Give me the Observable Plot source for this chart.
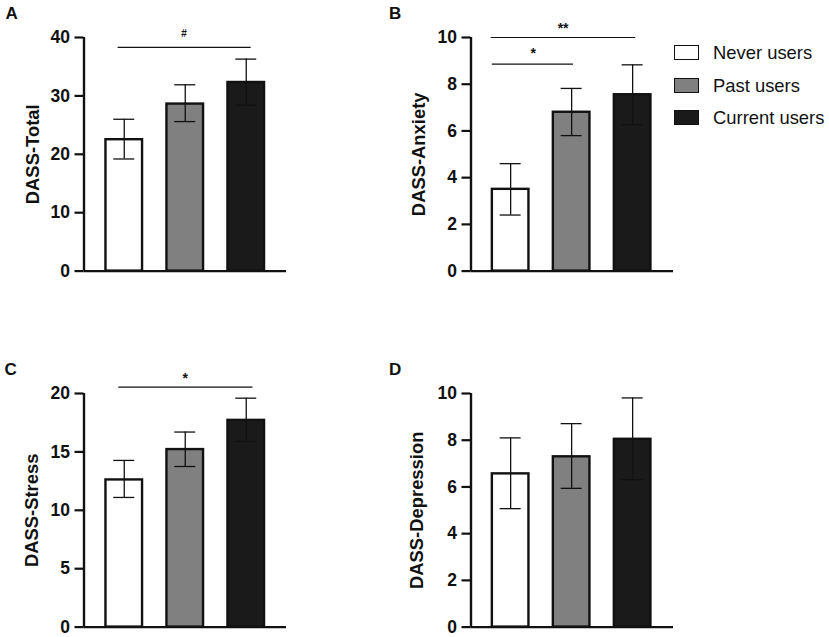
<!DOCTYPE html>
<html>
<head>
<meta charset="utf-8">
<script src="https://cdn.jsdelivr.net/npm/d3@7"></script>
<script src="https://cdn.jsdelivr.net/npm/@observablehq/plot@0.6"></script>
<style>
  body { margin: 0; background: white; }
  #page { position: relative; width: 829px; height: 637px; overflow: hidden; font-family: "Liberation Sans", Arial, sans-serif; }
  .panel { position: absolute; }
  .panel svg { display: block; }
  #legend { position: absolute; left: 674px; top: 0; }
  .key { position: absolute; left: 0; white-space: nowrap; }
  .swatch { position: absolute; left: 0; top: 0; width: 23px; height: 13px; border: 1.6px solid #111; }
  .key span { position: absolute; left: 39px; top: -3px; font-size: 18.4px; line-height: 21px; color: #111; }
</style>
</head>
<body>
<div id="page"></div>
<script>
const categories = ["Never users", "Past users", "Current users"];
const colors = ["#ffffff", "#808080", "#1a1a1a"];

// means, upper and lower error bars
const totalMean = [22.5, 28.6, 32.3];
const totalHi = [26.0, 31.9, 36.3];
const totalLo = [19.2, 25.6, 28.4];

const anxietyMean = [3.5, 6.8, 7.55];
const anxietyHi = [4.6, 7.82, 8.83];
const anxietyLo = [2.4, 5.8, 6.27];

const stressMean = [12.6, 15.2, 17.7];
const stressHi = [14.27, 16.7, 19.6];
const stressLo = [11.1, 13.75, 15.9];

const depressionMean = [6.56, 7.29, 8.04];
const depressionHi = [8.1, 8.71, 9.81];
const depressionLo = [5.07, 5.94, 6.31];

// significance lines: from, to (in bar positions), height, mark
const totalSig = [{x1: -0.1, x2: 2.08, y: 38.3, tx: 0.98, ty: 40.55, mark: "#", size: 10}];
const anxietySig = [
  {x1: -0.32, x2: 2.05, y: 10, tx: 0.86, ty: 10.4, mark: "**", size: 14},
  {x1: -0.3, x2: 1.03, y: 8.86, tx: 0.37, ty: 9.3, mark: "*", size: 14}
];
const stressSig = [{x1: -0.09, x2: 2.11, y: 20.55, tx: 1, ty: 21.27, mark: "*", size: 14}];
const depressionSig = [];

const barHalf = 0.3;
const capHalf = 0.172;

function panel(o) {
  const rows = categories.map((c, i) => ({c, i, mean: o.mean[i], hi: o.hi[i], lo: o.lo[i]}));
  const chart = Plot.plot({
    width: 286,
    height: 281,
    marginLeft: 83.5,
    marginRight: 0,
    marginTop: 37,
    marginBottom: 10.4,
    style: {fontFamily: "'Liberation Sans', Arial, sans-serif", background: "transparent", color: "#111"},
    x: {domain: o.xDomain, axis: null},
    y: {domain: [0, o.max]},
    color: {domain: categories, range: colors},
    marks: [
      Plot.rectY(rows, {
        x1: d => d.i - barHalf,
        x2: d => d.i + barHalf,
        y1: 0,
        y2: "mean",
        fill: "c",
        stroke: "#111",
        strokeWidth: 2.4
      }),
      Plot.ruleX(rows, {x: "i", y1: "lo", y2: "hi", stroke: "#111", strokeWidth: 1.3}),
      Plot.ruleY(rows, {y: "hi", x1: d => d.i - capHalf, x2: d => d.i + capHalf, stroke: "#111", strokeWidth: 1.3}),
      Plot.ruleY(rows, {y: "lo", x1: d => d.i - capHalf, x2: d => d.i + capHalf, stroke: "#111", strokeWidth: 1.3}),
      Plot.ruleY(o.sig, {y: "y", x1: "x1", x2: "x2", stroke: "#111", strokeWidth: 1.2}),
      ...o.sig.map(s => Plot.text([s], {x: "tx", y: "ty", text: "mark", fontSize: s.size, fontWeight: "bold", fill: "#111"})),
      Plot.axisY({
        ticks: o.ticks,
        tickSize: 9,
        tickPadding: 5,
        label: null,
        fontSize: 17.5,
        fontWeight: "bold",
        strokeWidth: 2.2,
        stroke: "#111",
        fill: "#111"
      }),
      Plot.ruleX([o.xDomain[0]], {y1: 0, y2: o.max, stroke: "#111", strokeWidth: 2.4}),
      Plot.ruleY([0], {stroke: "#111", strokeWidth: 2.4}),
      Plot.text([o.label], {
        frameAnchor: "left",
        textAnchor: "middle",
        rotate: -90,
        dx: o.labelX - 83.5,
        fontSize: 18.4,
        fontWeight: "bold",
        fill: "#111"
      }),
      Plot.text([o.letter], {
        frameAnchor: "top-left",
        lineAnchor: "middle",
        dx: o.letterX - 83.5,
        dy: 13.5 - 37,
        fontSize: 17,
        fontWeight: "bold",
        fill: "#111"
      })
    ]
  });
  const div = document.createElement("div");
  div.className = "panel";
  div.style.left = o.left + "px";
  div.style.top = o.top + "px";
  div.append(chart);
  document.getElementById("page").append(div);
}

panel({letter: "A", label: "DASS-Total", left: 0, top: 0, max: 40, ticks: [0, 10, 20, 30, 40], xDomain: [-0.66, 2.66],
  mean: totalMean, hi: totalHi, lo: totalLo, sig: totalSig, labelX: 33, letterX: 5});
panel({letter: "B", label: "DASS-Anxiety", left: 386.5, top: 0, max: 10, ticks: [0, 2, 4, 6, 8, 10], xDomain: [-0.65, 2.67],
  mean: anxietyMean, hi: anxietyHi, lo: anxietyLo, sig: anxietySig, labelX: 31.2, letterX: 1.5});
panel({letter: "C", label: "DASS-Stress", left: 0, top: 356, max: 20, ticks: [0, 5, 10, 15, 20], xDomain: [-0.66, 2.66],
  mean: stressMean, hi: stressHi, lo: stressLo, sig: stressSig, labelX: 31.7, letterX: 4});
panel({letter: "D", label: "DASS-Depression", left: 386.5, top: 356, max: 10, ticks: [0, 2, 4, 6, 8, 10], xDomain: [-0.65, 2.67],
  mean: depressionMean, hi: depressionHi, lo: depressionLo, sig: depressionSig, labelX: 29.5, letterX: 1.5});

// legend
const legend = d3.select("#page").append("div").attr("id", "legend");
categories.forEach((c, i) => {
  const key = legend.append("div").attr("class", "key").style("top", (45 + i * 32.5) + "px");
  key.append("div").attr("class", "swatch").style("background", colors[i]);
  key.append("span").text(c);
});
</script>
</body>
</html>
